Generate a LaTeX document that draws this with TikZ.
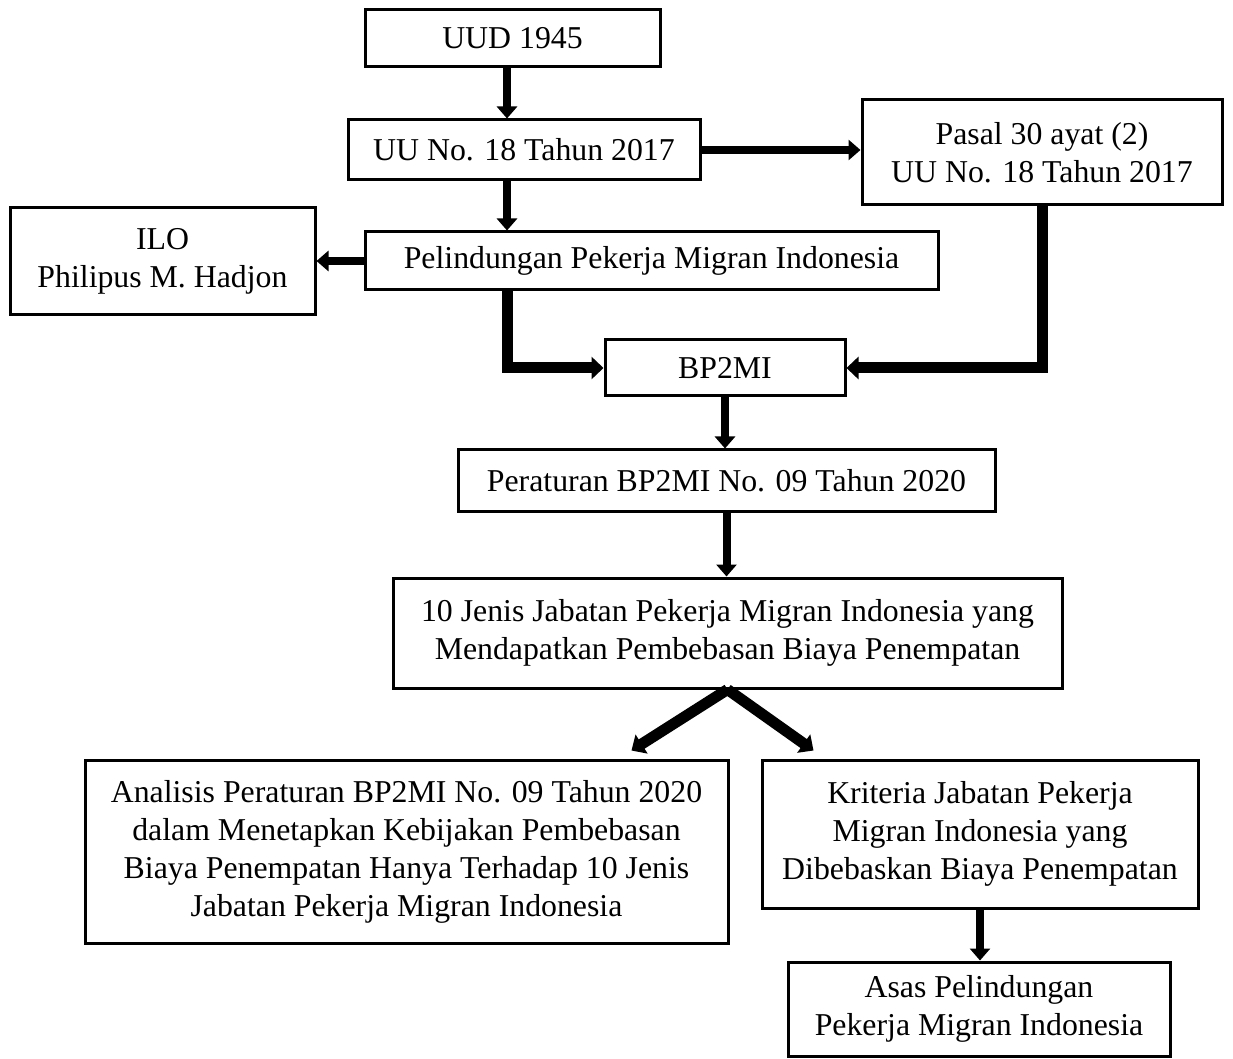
\documentclass[tikz,border=0pt]{standalone}
\usepackage{fontspec}
\setmainfont{Liberation Serif}
\usetikzlibrary{arrows.meta,calc}
\begin{document}
\begin{tikzpicture}[x=0.5pt,y=-0.5pt,
  box/.style={draw, line width=1.5pt, inner sep=0pt, align=center,
    font=\fontsize{15.9}{19}\selectfont},
  arr/.style={line width=4pt, -{Triangle[length=6pt,width=10pt]}},
  thickarr/.style={line width=5.5pt, -{Triangle[length=6pt,width=11pt]}}]
  \useasboundingbox (0,0) rectangle (1233,1059);
  \coordinate (axis) at (507,0);
  \node[box, minimum width=147.5pt, minimum height=28.5pt] (uud) at (512.5,38.5) {UUD 1945};
  \node[box, minimum width=176pt, minimum height=30pt] (uu) at (524,150) {UU No. 18 Tahun 2017};
  \node[box, minimum width=180pt, minimum height=52.5pt] (pasal) at (1042,152.5) {Pasal 30 ayat (2)\\UU No. 18 Tahun 2017};
  \node[box, minimum width=152.5pt, minimum height=53.5pt] (ilo) at (162.5,261.5) {ILO\\Philipus M. Hadjon};
  \node[box, minimum width=286.5pt, minimum height=29pt] (pel) at (651.5,261) {Pelindungan Pekerja Migran Indonesia};
  \node[box, minimum width=120pt, minimum height=28pt] (bp) at (725,368) {BP2MI};
  \node[box, minimum width=268.5pt, minimum height=31pt] (per) at (726.5,481) {Peraturan BP2MI No. 09 Tahun 2020};
  \node[box, minimum width=334.5pt, minimum height=55pt] (jenis) at (727.5,633) {10 Jenis Jabatan Pekerja Migran Indonesia yang\\Mendapatkan Pembebasan Biaya Penempatan};
  \node[box, minimum width=321.5pt, minimum height=91.5pt] (an) at (406.5,851.5) {Analisis Peraturan BP2MI No. 09 Tahun 2020\\dalam Menetapkan Kebijakan Pembebasan\\Biaya Penempatan Hanya Terhadap 10 Jenis\\Jabatan Pekerja Migran Indonesia};
  \node[box, minimum width=218pt, minimum height=74pt] (kr) at (980,834) {Kriteria Jabatan Pekerja\\Migran Indonesia yang\\Dibebaskan Biaya Penempatan};
  \node[box, minimum width=191pt, minimum height=47pt] (asas) at (979,1009) {Asas Pelindungan\\Pekerja Migran Indonesia};
  \draw[arr] (uud.south -| axis) -- (uu.north -| axis);
  \draw[arr] (uu.south -| axis) -- (pel.north -| axis);
  \draw[arr] (uu.east) -- (pasal.west |- uu.east);
  \draw[arr] (pel.west) -- (ilo.east |- pel.west);
  \draw[thickarr] (pel.south -| axis) |- (bp.west);
  \draw[thickarr] (pasal.south) |- (bp.east);
  \draw[arr] (bp.south) -- (per.north -| bp.south);
  \draw[arr] (per.south) -- (jenis.north -| per.south);
  \draw[thickarr] (jenis.south) -- ($(an.north east)+(-98,-8)$);
  \draw[thickarr] (jenis.south) -- ($(kr.north west)+(53,-8)$);
  \draw[arr] (kr.south) -- (asas.north -| kr.south);
\end{tikzpicture}
\end{document}
